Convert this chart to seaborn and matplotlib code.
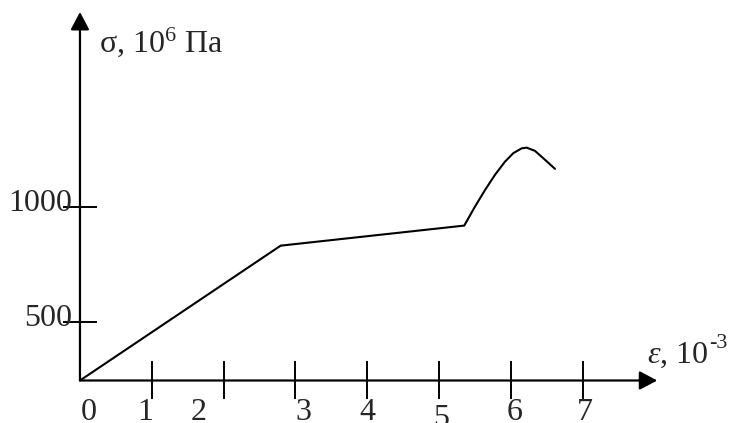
import numpy as np
import pandas as pd
import matplotlib
matplotlib.use("Agg")
import matplotlib.pyplot as plt
import seaborn as sns

# Stress-strain curve: strain (10^-3) and stress (10^6 Pa)
strain = [0.0, 2.795, 5.352, 5.501, 5.641, 5.780, 5.919, 6.035, 6.152, 6.221, 6.337, 6.453, 6.616]
stress = [0.0, 831, 918, 1000, 1072, 1138, 1195, 1232, 1253, 1256, 1242, 1210, 1164]

x_ticks = [1, 2, 3, 4, 5, 6, 7]
x_tick_labels = ["0", "1", "2", "3", "4", "5", "6", "7"]
y_ticks = [500, 1000]
y_tick_labels = ["500", "1000"]

sns.set_theme(style="white")
plt.rcParams["font.family"] = ["Liberation Serif", "DejaVu Serif"]
plt.rcParams["mathtext.fontset"] = "custom"
plt.rcParams["mathtext.rm"] = "Liberation Serif"
plt.rcParams["mathtext.it"] = "Liberation Serif:italic"

FS = 23

# The stress axis is drawn compressed below 500 and linear above it
LOW_H, HIGH_H = 58.5, 115.3


def fwd(v):
    v = np.asarray(v, dtype=float)
    return np.where(v <= 500, v * LOW_H / 500, LOW_H + (v - 500) * HIGH_H / 500)


def inv(h):
    h = np.asarray(h, dtype=float)
    return np.where(h <= LOW_H, h * 500 / LOW_H, 500 + (h - LOW_H) * 500 / HIGH_H)


fig = plt.figure(figsize=(7.31, 4.23), dpi=100)
ax = fig.add_axes([0.1094, 0.1005, 0.7897, 0.8712])
ax.set_yscale("function", functions=(fwd, inv))
ax.set_xlim(0, 8.04)
ax.set_ylim(0, float(inv(368.5)))

df = pd.DataFrame({"strain": strain, "stress": stress})
sns.lineplot(data=df, x="strain", y="stress", ax=ax, color="black",
             linewidth=1.5, estimator=None, sort=False,
             solid_joinstyle="round", solid_capstyle="round")
ax.set_xlabel("")
ax.set_ylabel("")

for s in ax.spines.values():
    s.set_visible(False)

# Axes drawn as arrows
arrow = dict(arrowstyle="-|>,head_length=0.72,head_width=0.38", color="black",
             lw=1.6, mutation_scale=15, shrinkA=0, shrinkB=0)
ax.annotate("", xy=(1, 0), xytext=(0, 0), xycoords="axes fraction",
            textcoords="axes fraction", arrowprops=arrow)
ax.annotate("", xy=(0, 1), xytext=(0, 0), xycoords="axes fraction",
            textcoords="axes fraction", arrowprops=arrow)

ax.set_xticks(x_ticks)
ax.set_xticklabels([])
ax.set_yticks(y_ticks)
ax.set_yticklabels([])
ax.tick_params(axis="x", bottom=True, direction="inout", length=27.7, width=1.4,
               color="black")
ax.tick_params(axis="y", left=True, direction="inout", length=25, width=1.4,
               color="black")
ax.minorticks_off()

# Hand-placed strain labels under the axis
label_x = [0.125, 0.905, 1.657, 3.106, 3.997, 5.028, 6.052, 7.033]
label_dy = [-28.5, -28.5, -28.5, -28.5, -28.5, -33, -28.5, -28.5]
for lx, dy, txt in zip(label_x, label_dy, x_tick_labels):
    ax.annotate(txt, xy=(lx, 0), xytext=(0, dy), textcoords="offset points",
                ha="center", va="baseline", fontsize=FS, annotation_clip=False)

for yv, txt in zip(y_ticks, y_tick_labels):
    ax.annotate(txt, xy=(0, yv), xytext=(-5.8, -3), textcoords="offset points",
                ha="right", va="baseline", fontsize=FS, annotation_clip=False)

fig.text(99 / 731, 1 - 52 / 423, "σ, 10$^{6}$ Па", ha="left", va="baseline", fontsize=FS)

# Strain axis title with a hyphen-style exponent
eps_txt = fig.text(647 / 731, 1 - 363 / 423, r"$\varepsilon$, 10", ha="left",
                   va="baseline", fontsize=FS)
renderer = fig.canvas.get_renderer()
bb = eps_txt.get_window_extent(renderer=renderer)
fig.text((bb.x1 + 1) / 731, 1 - 348 / 423, "-3", ha="left", va="baseline",
         fontsize=16)

fig.savefig("out.png", dpi=100, facecolor="white")
